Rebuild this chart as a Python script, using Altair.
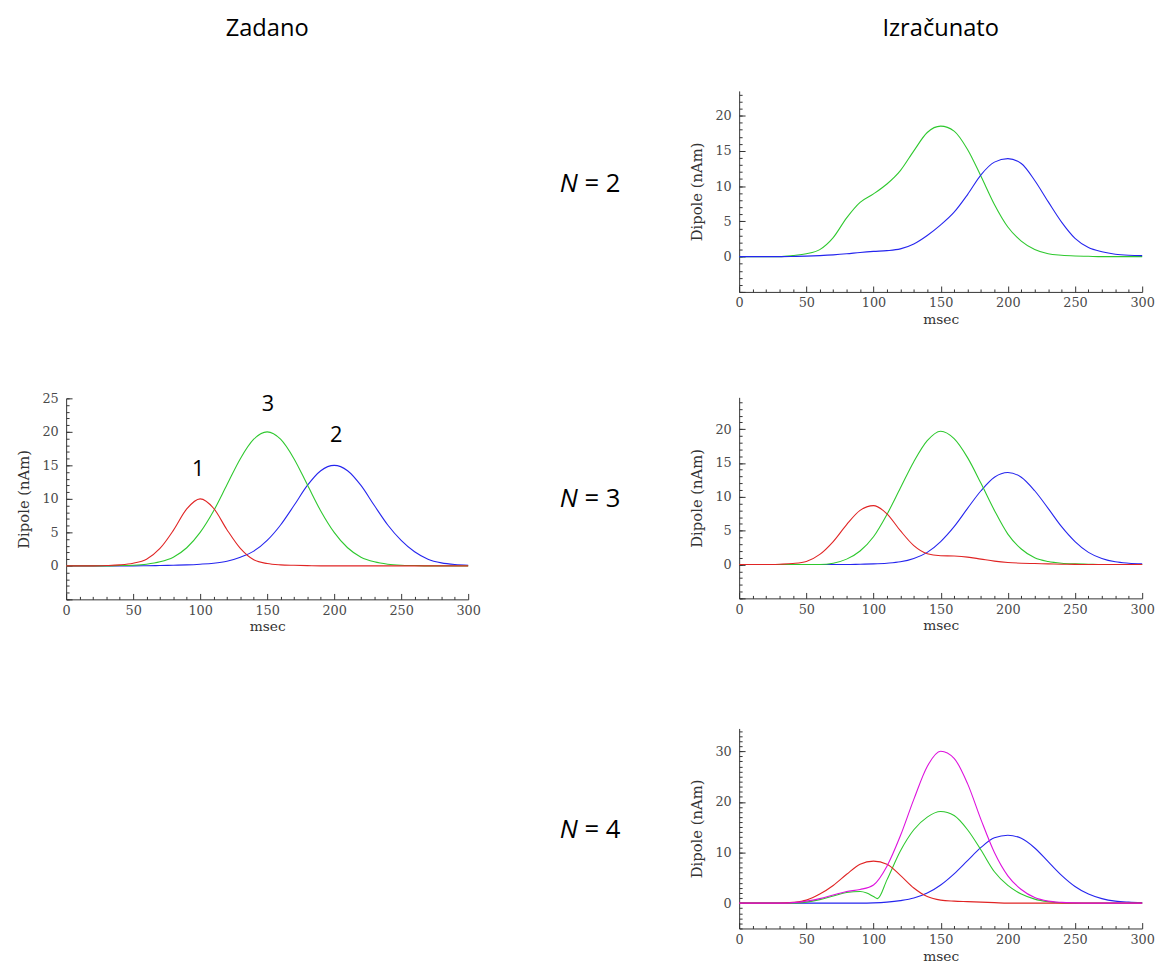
import altair as alt
import pandas as pd

# ---------------- data ----------------
T = [0, 10, 20, 30, 40, 50, 60, 70, 80, 90, 100, 110, 120, 130, 140, 150,
     160, 170, 180, 190, 200, 210, 220, 230, 240, 250, 260, 270, 280, 290, 300]

# "Zadano" (given sources): 1 red, 2 blue, 3 green
zad_red = [0, 0, 0, 0.05, 0.15, 0.4, 1.0, 2.6, 5.3, 8.5, 10.0, 8.6, 5.4, 2.6, 0.9, 0.35,
           0.15, 0.08, 0.04, 0, 0, 0, 0, 0, 0, 0, 0, 0, 0, 0, 0]
zad_green = [0, 0, 0, 0, 0.05, 0.1, 0.25, 0.6, 1.3, 2.7, 5.0, 8.2, 12.1, 16.0, 18.9, 20.0,
             18.9, 16.0, 12.1, 8.2, 5.0, 2.7, 1.3, 0.6, 0.25, 0.1, 0.05, 0, 0, 0, 0]
zad_blue = [0, 0, 0, 0, 0, 0, 0.02, 0.05, 0.1, 0.15, 0.25, 0.4, 0.7, 1.3, 2.2, 3.8,
            6.1, 9.0, 12.0, 14.2, 15.0, 14.2, 12.0, 9.0, 6.1, 3.8, 2.1, 1.0, 0.45, 0.2, 0.1]
zad_marks = ["1", "3", "2"]
zad_marks_t = [98.5, 150.5, 201.5]
zad_marks_v = [14.5, 24.2, 19.5]

# N = 2
n2_green = [0, 0, 0, 0, 0.15, 0.4, 1.0, 2.7, 5.5, 7.7, 8.9, 10.3, 12.2, 15.0, 17.6, 18.5,
            17.8, 15.2, 11.4, 7.4, 4.2, 2.2, 1.0, 0.4, 0.2, 0.1, 0.05, 0, 0, 0, 0]
n2_blue = [0, 0, 0, 0, 0.03, 0.08, 0.15, 0.25, 0.4, 0.6, 0.75, 0.85, 1.1, 1.8, 3.0, 4.5,
           6.3, 8.8, 11.6, 13.4, 13.9, 13.2, 10.8, 7.8, 4.9, 2.6, 1.3, 0.7, 0.35, 0.2, 0.15]

# N = 3
n3_red = [0, 0, 0, 0.05, 0.15, 0.45, 1.5, 3.4, 5.9, 8.0, 8.7, 7.5, 5.0, 2.8, 1.6, 1.3,
          1.25, 1.1, 0.8, 0.5, 0.3, 0.2, 0.15, 0.1, 0.05, 0.03, 0, 0, 0, 0, 0]
n3_green = [0, 0, 0, 0, 0, 0, 0, 0.2, 0.8, 2.0, 4.1, 7.4, 11.3, 15.2, 18.3, 19.7,
            18.6, 15.8, 12.0, 8.0, 4.5, 2.3, 1.0, 0.45, 0.2, 0.1, 0.05, 0, 0, 0, 0]
n3_blue = [0, 0, 0, 0, 0, 0, 0, 0, 0, 0.05, 0.1, 0.2, 0.4, 0.9, 1.8, 3.4,
           5.6, 8.3, 10.9, 12.9, 13.6, 12.9, 10.9, 8.3, 5.6, 3.4, 1.8, 0.9, 0.4, 0.2, 0.1]

# N = 4
n4_red = [0, 0, 0, 0, 0.15, 0.6, 1.8, 3.5, 5.7, 7.7, 8.3, 7.7, 5.5, 3.0, 1.3, 0.6,
          0.4, 0.3, 0.2, 0.1, 0, 0, 0, 0, 0, 0, 0, 0, 0, 0, 0]
n4_green_t = [0, 10, 20, 30, 40, 50, 60, 70, 80, 90, 95, 100, 103, 110, 120, 130, 140, 150,
              160, 170, 180, 190, 200, 210, 220, 230, 240, 250, 260, 270, 280, 290, 300]
n4_green = [0, 0, 0, 0, 0, 0.2, 0.7, 1.4, 2.1, 2.3, 2.0, 1.3, 0.9, 4.6, 10.3, 14.5, 17.0, 18.1,
            17.3, 14.5, 10.5, 6.2, 3.5, 1.8, 0.8, 0.3, 0.05, 0, 0, 0, 0, 0, 0]
n4_blue = [0, 0, 0, 0, 0, 0, 0, 0, 0, 0, 0.05, 0.2, 0.5, 1.0, 2.0, 3.6,
           5.8, 8.4, 11.0, 12.9, 13.4, 12.8, 10.9, 8.2, 5.5, 3.3, 1.8, 0.9, 0.4, 0.2, 0.1]
n4_magenta = [0, 0, 0, 0, 0.1, 0.4, 0.9, 1.6, 2.3, 2.7, 3.6, 7.3, 13.3, 20.5, 27.0, 30.0,
              28.6, 23.6, 16.5, 10.0, 5.4, 2.7, 1.1, 0.4, 0.15, 0.05, 0, 0, 0, 0, 0]

n_values = [2, 3, 4]
x_labels = [0, 50, 100, 150, 200, 250, 300]
x_minor = [10, 20, 30, 40, 60, 70, 80, 90, 110, 120, 130, 140, 160, 170, 180, 190,
           210, 220, 230, 240, 260, 270, 280, 290]

series_names = ["red", "green", "blue", "magenta"]
series_colors = ["#e02424", "#2ec82e", "#2525ee", "#dd11dd"]

SERIF = "DejaVu Serif"
SANS = "Open Sans"
AX = "#333333"
LBL = "#4a4a4a"


def to_df(series):
    rows = []
    for name, ts, vs in series:
        for t, v in zip(ts, vs):
            rows.append({"t": t, "v": v, "s": name})
    return pd.DataFrame(rows)


def make_panel(series, ydom, ylabels, ymajor, yminor, w, h, n=None, n_y=105, title=None):
    df = to_df(series)
    xs = alt.Scale(domain=[0, 300], nice=False, zero=False)
    ys = alt.Scale(domain=ydom, nice=False, zero=False)
    base = alt.Chart(df)
    lines = base.mark_line(strokeWidth=1.1, interpolate="monotone").encode(
        x=alt.X("t:Q", scale=xs, axis=alt.Axis(
            orient="bottom", values=x_labels, ticks=False, grid=False,
            domainColor=AX, domainWidth=1, labelFont=SERIF, labelFontSize=13,
            labelColor=LBL, labelPadding=5, labelFlush=False, labelOverlap=False,
            title="msec", titleFont=SERIF, titleFontSize=14, titleFontWeight="normal",
            titleColor=AX, titlePadding=3)),
        y=alt.Y("v:Q", scale=ys, axis=alt.Axis(
            orient="left", values=ylabels, ticks=False, grid=False,
            domainColor=AX, domainWidth=1, labelFont=SERIF, labelFontSize=13,
            labelColor=LBL, labelPadding=8, labelFlush=False, labelOverlap=False,
            title="Dipole (nAm)", titleFont=SERIF, titleFontSize=15,
            titleFontWeight="normal", titleColor=AX, titlePadding=11)),
        color=alt.Color("s:N", scale=alt.Scale(domain=series_names, range=series_colors),
                        legend=None),
    )

    def ticks(xv, yv, size):
        return base.mark_line(strokeOpacity=0).encode(
            x=alt.X("t:Q", scale=xs, axis=alt.Axis(
                orient="bottom", values=xv, labels=False, domain=False, grid=False,
                ticks=True, tickSize=size, offset=-size, tickColor=AX, title=None)),
            y=alt.Y("v:Q", scale=ys, axis=alt.Axis(
                orient="left", values=yv, labels=False, domain=False, grid=False,
                ticks=True, tickSize=size, offset=-size, tickColor=AX, title=None)),
            detail="s:N",
        )

    layers = [lines, ticks(x_labels, ymajor, 6), ticks(x_minor, yminor, 3)]
    if n is not None:
        layers.append(
            alt.Chart(pd.DataFrame({"txt": ["N"]})).mark_text(
                font=SANS, fontSize=26, fontStyle="italic", align="left",
                baseline="alphabetic", color="#000000"
            ).encode(x=alt.value(-182), y=alt.value(n_y), text="txt:N"))
        layers.append(
            alt.Chart(pd.DataFrame({"txt": [f"= {n}"]})).mark_text(
                font=SANS, fontSize=26, align="left",
                baseline="alphabetic", color="#000000"
            ).encode(x=alt.value(-157), y=alt.value(n_y), text="txt:N"))
    ch = alt.layer(*layers).resolve_axis(x="independent", y="independent")
    props = dict(width=w, height=h)
    if title is not None:
        props["title"] = title
    return ch.properties(**props)


def title_params(text, offset):
    return alt.TitleParams(text, font=SANS, fontSize=24, fontWeight="normal",
                           color="#000000", anchor="middle", frame="group", offset=offset)


# ---------------- left: Zadano ----------------
left_panel = make_panel(
    [("blue", T, zad_blue), ("green", T, zad_green), ("red", T, zad_red)],
    [-5, 25], [0, 5, 10, 15, 20, 25], [-5, 0, 5, 10, 15, 20, 25],
    list(range(-5, 26)), 408, 204)
zad_text = alt.Chart(pd.DataFrame({"m": zad_marks, "t": zad_marks_t, "v": zad_marks_v})).mark_text(
    font=SANS, fontSize=22, color="#000000", baseline="middle", align="center"
).encode(
    x=alt.X("t:Q", axis=None),
    y=alt.Y("v:Q", axis=None),
    text="m:N",
)
left_plot = alt.layer(left_panel, zad_text).properties(width=408, height=204)

# empty upper cell of the left column that carries the "Zadano" heading
left_head = alt.Chart(pd.DataFrame({"a": [0]})).mark_point(opacity=0).properties(
    width=408, height=204, title=title_params("Zadano", 51))

left = alt.vconcat(left_head, left_plot, spacing=102)

# ---------------- right: Izračunato ----------------
p2 = make_panel(
    [("green", T, n2_green), ("blue", T, n2_blue)],
    [-5, 23.5], [0, 5, 10, 15, 20], [-5, 0, 5, 10, 15, 20],
    list(range(-5, 24)), 409, 204, n=n_values[0], n_y=103,
    title=title_params("Izračunato", 51))
p3 = make_panel(
    [("blue", T, n3_blue), ("green", T, n3_green), ("red", T, n3_red)],
    [-5, 24.7], [0, 5, 10, 15, 20], [-5, 0, 5, 10, 15, 20],
    list(range(-5, 25)), 409, 204, n=n_values[1], n_y=111)
p4 = make_panel(
    [("blue", T, n4_blue), ("green", n4_green_t, n4_green), ("red", T, n4_red),
     ("magenta", T, n4_magenta)],
    [-5, 34.5], [0, 10, 20, 30], [0, 10, 20, 30],
    list(range(-5, 35)), 409, 203, n=n_values[2], n_y=111)

right = alt.vconcat(alt.vconcat(p2, p3, spacing=72), p4, spacing=97)

chart = alt.hconcat(left, right, spacing=80).properties(
    padding={"left": 8, "top": 2, "right": 0, "bottom": 0}
).configure_view(stroke=None)

chart.save("out.html", embed_options={"renderer": "svg", "actions": False})
